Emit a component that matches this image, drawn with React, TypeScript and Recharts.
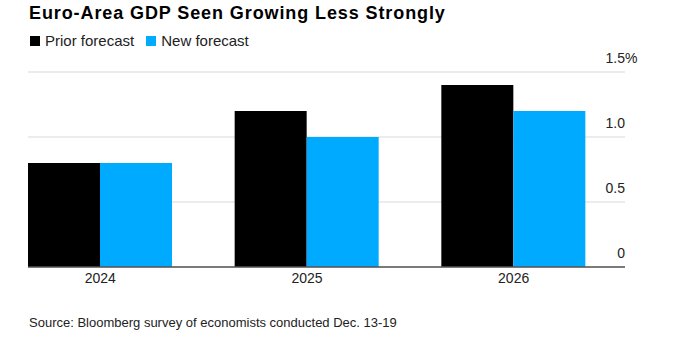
import React from "react";
import { BarChart, Bar, XAxis, YAxis, CartesianGrid } from "recharts";

const years = ["2024", "2025", "2026"];
const priorForecast = [0.8, 1.2, 1.4];
const newForecast = [0.8, 1.0, 1.2];
const yTicks = [0, 0.5, 1, 1.5];
const yTickLabels = ["0", "0.5", "1.0", "1.5"];

const data = years.map((year, i) => ({
  year,
  prior: priorForecast[i],
  next: newForecast[i],
}));

const FONT = '"Liberation Sans", Arial, Helvetica, sans-serif';

// Right-hand axis labels sit above their gridline, right-aligned to the plot edge
const YTick = (props: any) => {
  const { y, payload } = props;
  const idx = yTicks.indexOf(payload.value);
  const label = yTickLabels[idx] ?? String(payload.value);
  const isTop = idx === yTicks.length - 1;
  return (
    <g>
      <text x={625} y={y - 9} textAnchor="end" fontSize={14} fill="#222" fontFamily={FONT}>
        {label}
      </text>
      {isTop && (
        <text x={625} y={y - 9} textAnchor="start" fontSize={14} fill="#222" fontFamily={FONT}>
          %
        </text>
      )}
    </g>
  );
};

const App: React.FC = () => {
  return (
    <div
      style={{
        position: "absolute",
        left: 0,
        top: 0,
        width: 700,
        height: 357,
        background: "#fff",
        fontFamily: FONT,
        overflow: "hidden",
      }}
    >
      <div
        style={{
          position: "absolute",
          left: 29,
          top: 3,
          fontSize: 18,
          fontWeight: 700,
          color: "#000",
          letterSpacing: 0.9,
        }}
      >
        Euro-Area GDP Seen Growing Less Strongly
      </div>
      <div
        style={{
          position: "absolute",
          left: 30,
          top: 32,
          fontSize: 15,
          color: "#222",
          display: "flex",
          alignItems: "center",
        }}
      >
        <span style={{ width: 10, height: 10, background: "#000", display: "inline-block", marginRight: 5 }} />
        <span style={{ marginRight: 12 }}>Prior forecast</span>
        <span style={{ width: 10, height: 10, background: "#00aaff", display: "inline-block", marginRight: 5 }} />
        <span>New forecast</span>
      </div>

      <div style={{ position: "absolute", left: 0, top: 0 }}>
        <BarChart
          width={700}
          height={357}
          data={data}
          margin={{ top: 72, right: 35, left: 28, bottom: 60 }}
          barCategoryGap={31}
          barGap={0}
        >
          <CartesianGrid vertical={false} stroke="#d9d9d9" strokeWidth={1} />
          <XAxis
            dataKey="year"
            height={30}
            padding={{ left: -31, right: 8 }}
            tickLine={false}
            axisLine={{ stroke: "#555", strokeWidth: 1.5 }}
            tick={{ fontSize: 14, fill: "#222", fontFamily: FONT }}
            tickMargin={0}
          />
          <YAxis
            orientation="right"
            width={40}
            domain={[0, 1.5]}
            ticks={yTicks}
            axisLine={false}
            tickLine={false}
            tick={<YTick />}
          />
          <Bar dataKey="prior" name="Prior forecast" fill="#000" isAnimationActive={false} />
          <Bar dataKey="next" name="New forecast" fill="#00aaff" isAnimationActive={false} />
        </BarChart>
      </div>

      <div
        style={{
          position: "absolute",
          left: 29,
          top: 315,
          fontSize: 13,
          color: "#222",
        }}
      >
        Source: Bloomberg survey of economists conducted Dec. 13-19
      </div>
    </div>
  );
};

export default App;
